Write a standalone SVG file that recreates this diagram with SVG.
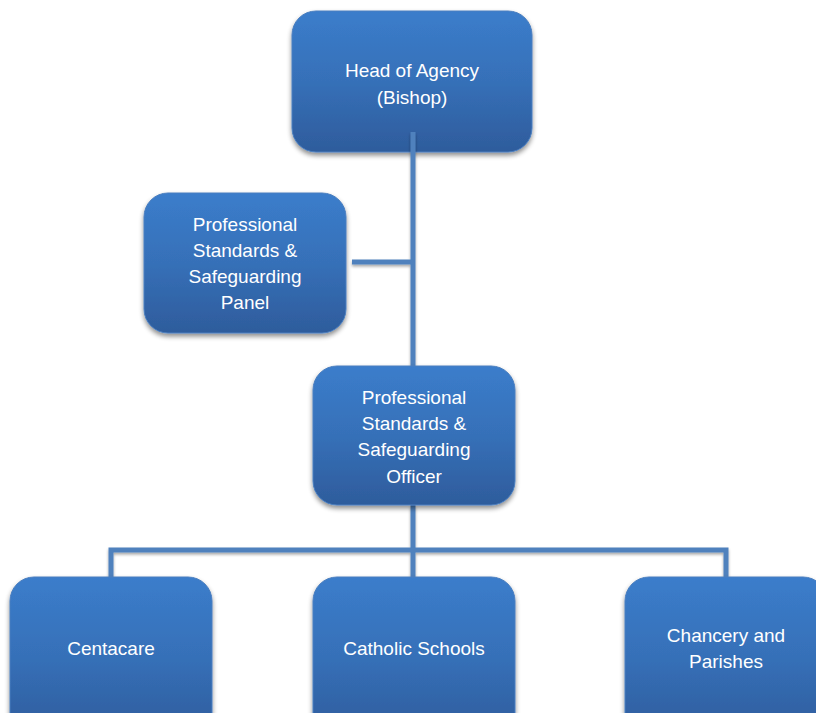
<svg xmlns="http://www.w3.org/2000/svg" width="816" height="713" viewBox="0 0 816 713">
<defs>
<linearGradient id="g" x1="0" y1="0" x2="0" y2="1">
<stop offset="0" stop-color="#3B7DCB"/>
<stop offset="0.5" stop-color="#3670B8"/>
<stop offset="1" stop-color="#2E5C9C"/>
</linearGradient>
<filter id="sh" x="-20%" y="-20%" width="140%" height="140%">
<feGaussianBlur in="SourceAlpha" stdDeviation="2.5"/>
<feOffset dx="0" dy="3" result="b"/>
<feComponentTransfer><feFuncA type="linear" slope="0.45"/></feComponentTransfer>
<feMerge><feMergeNode/><feMergeNode in="SourceGraphic"/></feMerge>
</filter>
<filter id="shl" filterUnits="userSpaceOnUse" x="0" y="0" width="816" height="713">
<feGaussianBlur in="SourceAlpha" stdDeviation="1.5"/>
<feOffset dx="0" dy="2" result="b"/>
<feComponentTransfer><feFuncA type="linear" slope="0.35"/></feComponentTransfer>
<feMerge><feMergeNode/><feMergeNode in="SourceGraphic"/></feMerge>
</filter>
</defs>
<style>
.box{fill:url(#g);stroke:#4A7EBF;stroke-width:1;filter:url(#sh)}
.t{font-family:"Liberation Sans",Arial,sans-serif;font-size:19px;fill:#FFFFFF;text-anchor:middle}
.c{stroke:#4F81BD;stroke-width:5;fill:none}
</style>
<rect width="816" height="713" fill="#FFFFFF"/>
<g id="head">
<rect class="box" x="292" y="11" width="240" height="141" rx="24"/>
<text class="t" x="412" y="77">Head of Agency</text>
<text class="t" x="412" y="104">(Bishop)</text>
</g>
<g id="panel">
<rect class="box" x="144" y="193" width="202" height="140" rx="24"/>
<text class="t" x="245" y="231">Professional</text>
<text class="t" x="245" y="257">Standards &amp;</text>
<text class="t" x="245" y="283">Safeguarding</text>
<text class="t" x="245" y="309">Panel</text>
</g>
<g id="connectors" filter="url(#shl)">
<path class="c" d="M413 132V366"/>
<path class="c" d="M352 262H413"/>
<path class="c" d="M413 505V577"/>
<path class="c" d="M111 577V550H726V577"/>
</g>
<g id="officer">
<rect class="box" x="313" y="366" width="202" height="139" rx="24"/>
<text class="t" x="414" y="404">Professional</text>
<text class="t" x="414" y="430">Standards &amp;</text>
<text class="t" x="414" y="456">Safeguarding</text>
<text class="t" x="414" y="483">Officer</text>
</g>
<g id="centacare">
<rect class="box" x="10" y="577" width="202" height="160" rx="24"/>
<text class="t" x="111" y="655">Centacare</text>
</g>
<g id="schools">
<rect class="box" x="313" y="577" width="202" height="160" rx="24"/>
<text class="t" x="414" y="655">Catholic Schools</text>
</g>
<g id="chancery">
<rect class="box" x="625" y="577" width="202" height="160" rx="24"/>
<text class="t" x="726" y="642">Chancery and</text>
<text class="t" x="726" y="668">Parishes</text>
</g>
</svg>
